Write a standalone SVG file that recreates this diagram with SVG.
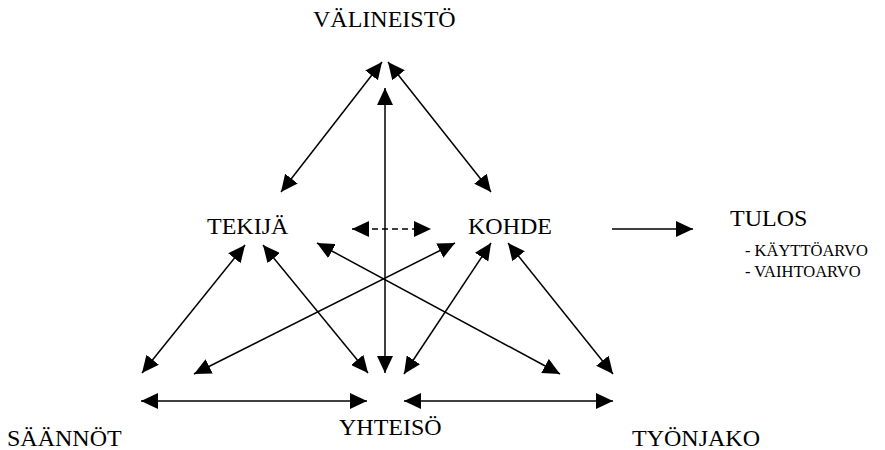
<svg xmlns="http://www.w3.org/2000/svg" width="885" height="450" viewBox="0 0 885 450">
  <style>
    text { font-family: 'Liberation Serif', 'Times New Roman', Times, 'Noto Serif', serif; fill: #000; }
    .lbl { font-size: 24px; }
    .sub { font-size: 16.5px; }
    .ln { stroke: #000; stroke-width: 1.5; fill: none; marker-end: url(#head); }
    .both { marker-start: url(#head); }
    .dash { stroke-dasharray: 6 4; }
  </style>
  <defs>
    <marker id="head" viewBox="0 0 17 16" refX="17" refY="8" markerWidth="17" markerHeight="16" markerUnits="userSpaceOnUse" orient="auto-start-reverse">
      <path d="M0,0 L17,8 L0,16 z" fill="#000"/>
    </marker>
  </defs>

  <!-- nodes -->
  <g id="valineisto"><text class="lbl" x="313" y="27">VÄLINEISTÖ</text></g>
  <g id="tekija"><text class="lbl" x="207" y="234">TEKIJÄ</text></g>
  <g id="kohde"><text class="lbl" x="468" y="234">KOHDE</text></g>
  <g id="tulos">
    <text class="lbl" x="730" y="226">TULOS</text>
    <text class="sub" x="745" y="256">- KÄYTTÖARVO</text>
    <text class="sub" x="745" y="277">- VAIHTOARVO</text>
  </g>
  <g id="saannot"><text class="lbl" x="7" y="446">SÄÄNNÖT</text></g>
  <g id="yhteiso"><text class="lbl" x="339" y="435">YHTEISÖ</text></g>
  <g id="tyonjako"><text class="lbl" x="632" y="446">TYÖNJAKO</text></g>

  <!-- connectors -->
  <g id="connectors">
    <!-- tool triangle apex -->
    <line class="ln both" x1="281" y1="192" x2="382" y2="62"/>
    <line class="ln both" x1="491" y1="192" x2="388" y2="62"/>
    <line class="ln both" x1="385" y1="88" x2="385" y2="373"/>
    <!-- subject / object -->
    <line class="ln both dash" x1="352" y1="229" x2="431" y2="229"/>
    <line class="ln" x1="612" y1="229" x2="693" y2="229"/>
    <!-- subject links -->
    <line class="ln both" x1="245" y1="245" x2="142" y2="373"/>
    <line class="ln both" x1="263" y1="245" x2="368" y2="373"/>
    <line class="ln both" x1="317" y1="243" x2="560" y2="374"/>
    <!-- object links -->
    <line class="ln both" x1="455" y1="243" x2="194" y2="374"/>
    <line class="ln both" x1="491" y1="243" x2="404" y2="374"/>
    <line class="ln both" x1="508" y1="243" x2="613" y2="374"/>
    <!-- base -->
    <line class="ln both" x1="141" y1="401" x2="367" y2="401"/>
    <line class="ln both" x1="404" y1="401" x2="613" y2="401"/>
  </g>
</svg>
